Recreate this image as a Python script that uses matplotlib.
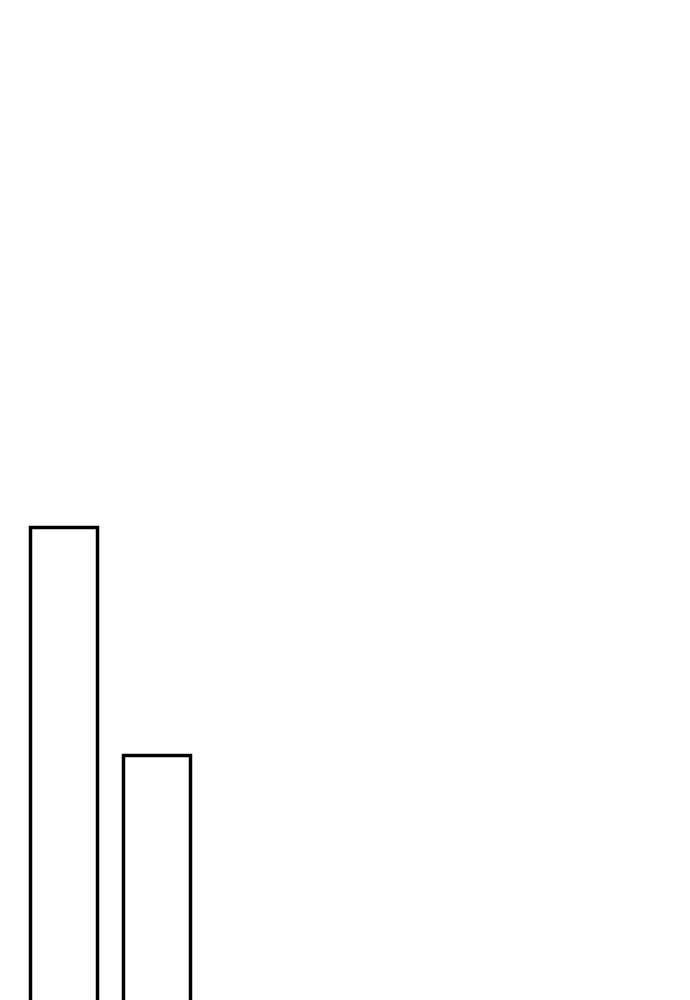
import matplotlib
matplotlib.use('Agg')
import matplotlib.pyplot as plt

categories = ['A', 'B']
values = [475, 247]

fig = plt.figure(figsize=(6.9, 10), dpi=100)
ax = fig.add_axes([0, 0, 1, 1])

x = range(len(categories))
ax.bar(x, values, width=0.72, color='white', edgecolor='black', linewidth=2.5)

ax.set_xlim(-0.678, 6.741)
ax.set_ylim(3, 1000)
ax.axis('off')

fig.savefig('out.png', dpi=100, facecolor='white')
